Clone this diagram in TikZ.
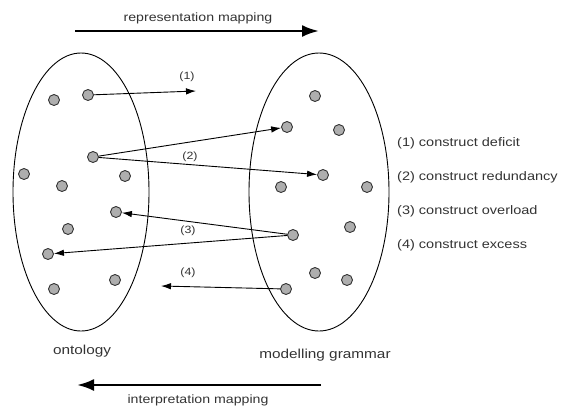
\documentclass[tikz,border=0pt]{standalone}
\usepackage{fontspec}
\setmainfont{Liberation Sans}[FakeStretch=1.18]
\usetikzlibrary{arrows.meta}
\definecolor{dotfill}{HTML}{AEAEAE}
\definecolor{txt}{HTML}{333333}
\begin{document}
\begin{tikzpicture}[x=1pt,y=-1pt,
  dot/.style={circle,draw=black!80,line width=0.9pt,fill=dotfill,minimum size=11pt,inner sep=0pt},
  conn/.style={line width=0.9pt,-{Latex[length=10pt,width=6.5pt]}},
  bigarrow/.style={line width=2.6pt,-{Latex[length=17pt,width=12pt]}},
  lbl/.style={text=txt,font=\fontsize{12}{14}\selectfont,inner sep=0pt},
  num/.style={text=txt,font=\fontsize{10.5}{12}\selectfont,inner sep=0pt},
  legend/.style={text=txt,font=\fontsize{12.3}{14}\selectfont,inner sep=0pt,anchor=west}]
\useasboundingbox (0,0) rectangle (561,408);
% ellipses
\draw[line width=0.9pt] (81,192) ellipse [x radius=68, y radius=139];
\draw[line width=0.9pt] (319,192) ellipse [x radius=70, y radius=139];
% left dots
\node[dot] (l1) at (54,100) {};
\node[dot] (l2) at (88,95) {};
\node[dot] (l3) at (93,157) {};
\node[dot] (l4) at (24,174) {};
\node[dot] (l5) at (62,186) {};
\node[dot] (l6) at (125,176) {};
\node[dot] (l7) at (116,212) {};
\node[dot] (l8) at (68,229) {};
\node[dot] (l9) at (48,254) {};
\node[dot] (l10) at (54,289) {};
\node[dot] (l11) at (115,280) {};
% right dots
\node[dot] (r1) at (315,96) {};
\node[dot] (r2) at (287,127) {};
\node[dot] (r3) at (339,130) {};
\node[dot] (r4) at (323,175) {};
\node[dot] (r5) at (281,187) {};
\node[dot] (r6) at (367,187) {};
\node[dot] (r7) at (293,235) {};
\node[dot] (r8) at (350,227) {};
\node[dot] (r9) at (315,273) {};
\node[dot] (r10) at (347,280) {};
\node[dot] (r11) at (286,289) {};
% free ends
\coordinate (e1) at (196,91);
\coordinate (e4) at (161,286);
% connectors
\draw[conn] (l2) -- (e1);
\draw[conn] (l3) -- (r2);
\draw[conn] (l3) -- (r4);
\draw[conn] (r7) -- (l7);
\draw[conn] (r7) -- (l9);
\draw[conn] (r11) -- (e4);
% connector labels
\node[num] (n1) at (187,77) {(1)};
\node[num] (n2) at (190,157) {(2)};
\node[num] (n3) at (188,231) {(3)};
\node[num] (n4) at (188,273) {(4)};
% big arrows
\coordinate (ta) at (75,31);
\coordinate (tb) at (319,31);
\draw[bigarrow] (ta) -- (tb);
\node[lbl] (rep) at (198,18) {representation mapping};
\coordinate (ba) at (321,385);
\coordinate (bb) at (77,385);
\draw[bigarrow] (ba) -- (bb);
\node[lbl] (int) at (198,400) {interpretation mapping};
% set names
\node[lbl,font=\fontsize{13}{15}\selectfont] (ont) at (82,351) {ontology};
\node[lbl,font=\fontsize{13}{15}\selectfont] (mg) at (325,355) {modelling grammar};
% legend
\node[legend] (d1) at (397,143) {(1) construct deficit};
\node[legend] (d2) at (397,177) {(2) construct redundancy};
\node[legend] (d3) at (397,211) {(3) construct overload};
\node[legend] (d4) at (397,245) {(4) construct excess};
\end{tikzpicture}
\end{document}
